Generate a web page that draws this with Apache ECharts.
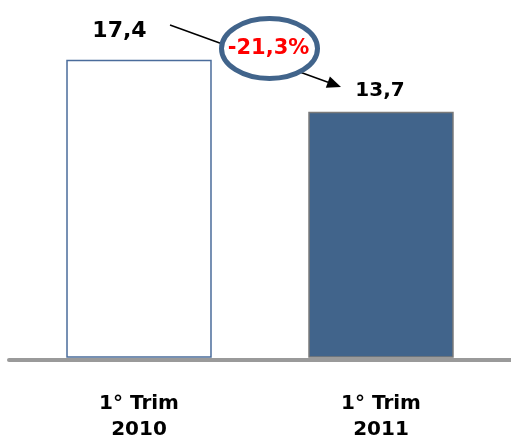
<!DOCTYPE html>
<html>
<head>
<meta charset="utf-8">
<script src="https://cdn.jsdelivr.net/npm/echarts@6/dist/echarts.min.js"></script>
<style>html,body{margin:0;padding:0;background:#fff}#c{width:511px;height:441px}</style>
</head>
<body>
<div id="c"></div>
<script>
var categories = ['1° Trim\n2010', '1° Trim\n2011'];
var values = [17.4, 13.7];
var changeLabel = '-21,3%';

var Y_MIN = -3.7, Y_MAX = 20;
var F = 'DejaVu Sans, Verdana, sans-serif';
var barStyles = [
  {fill: '#ffffff', stroke: '#4a6c9b'},
  {fill: '#41648b', stroke: '#7a7a7a'}
];
var labelPlacement = [
  {dx: -19.5, dy: -29, size: 22},
  {dx: -1, dy: -22, size: 20}
];
var fmt = function (v) { return v.toFixed(1).replace('.', ','); };

var chart = echarts.init(document.getElementById('c'), null, {renderer: 'canvas'});

var option = {
  animation: false,
  backgroundColor: '#fff',
  grid: [
    {left: 18, width: 484, top: 24, bottom: 84, containLabel: false, outerBoundsMode: 'none'},
    {left: 9, right: 0, top: 24, bottom: 81, containLabel: false, outerBoundsMode: 'none'}
  ],
  xAxis: [
    {
      type: 'category', gridIndex: 0, data: categories,
      axisLine: {show: false}, axisTick: {show: false},
      axisLabel: {fontFamily: F, fontWeight: 'bold', fontSize: 20, color: '#000', lineHeight: 26, margin: 34}
    },
    {
      type: 'category', gridIndex: 1, data: ['', ''],
      axisLine: {show: true, lineStyle: {color: '#9a9a9a', width: 4}},
      axisTick: {show: false}, axisLabel: {show: false}
    }
  ],
  yAxis: [
    {type: 'value', gridIndex: 0, min: Y_MIN, max: Y_MAX, show: false, splitLine: {show: false}},
    {type: 'value', gridIndex: 1, min: 0, max: 1, show: false, splitLine: {show: false}}
  ],
  series: [{
    type: 'custom', xAxisIndex: 0, yAxisIndex: 0,
    data: values.map(function (v, i) { return [i, v]; }),
    renderItem: function (params, api) {
      var i = api.value(0), v = api.value(1);
      var top = api.coord([i, v]);
      var base = api.coord([i, Y_MIN]);
      var w = api.size([1, 0])[0] * 0.595;
      var st = barStyles[i], lp = labelPlacement[i];
      return {
        type: 'group',
        children: [
          {type: 'rect', shape: {x: top[0] - w / 2, y: top[1], width: w, height: base[1] - top[1]},
           style: {fill: st.fill, stroke: st.stroke, lineWidth: 1.5}},
          {type: 'text', style: {text: fmt(v), x: top[0] + lp.dx, y: top[1] + lp.dy,
            align: 'center', verticalAlign: 'middle', fill: '#000',
            font: 'bold ' + lp.size + 'px ' + F}}
        ]
      };
    }
  }],
  graphic: [
    {type: 'line', z: 10, shape: {x1: 170, y1: 25, x2: 328, y2: 82.2}, style: {stroke: '#000', lineWidth: 1.5}},
    {type: 'polygon', z: 10, shape: {points: [[341, 87], [325.8, 87.8], [329.9, 76.6]]}, style: {fill: '#000'}},
    {type: 'ellipse', z: 11, shape: {cx: 269.5, cy: 48.5, rx: 48, ry: 30}, style: {fill: '#fff', stroke: '#41648b', lineWidth: 5}},
    {type: 'text', z: 12, x: 268.5, y: 48.5, style: {text: changeLabel, fill: '#ff0000', font: 'bold 21px ' + F, textAlign: 'center', textVerticalAlign: 'middle'}}
  ]
};
chart.setOption(option);
</script>
</body>
</html>
